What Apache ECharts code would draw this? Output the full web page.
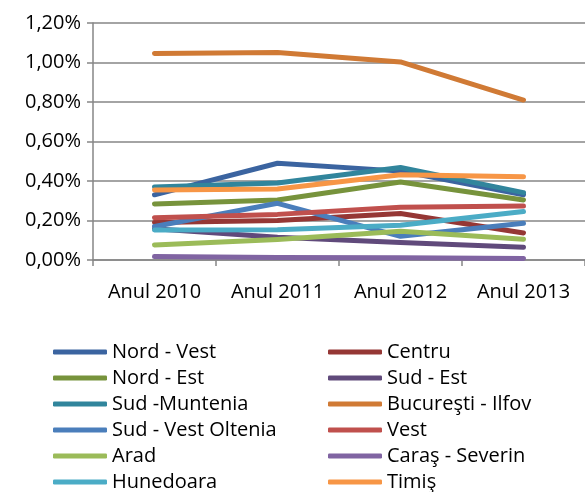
<!DOCTYPE html>
<html>
<head>
<meta charset="utf-8">
<script src="https://cdn.jsdelivr.net/npm/echarts@6/dist/echarts.min.js"></script>
<style>
  html, body { margin: 0; padding: 0; background: #fff; }
  #chart { width: 585px; height: 492px; }
</style>
</head>
<body>
<div id="chart"></div>
<script>
// Categories (years) on the horizontal axis
const years = ['Anul 2010', 'Anul 2011', 'Anul 2012', 'Anul 2013'];

// Shares per region / county, in percent
const nordVest        = [0.33, 0.49, 0.45, 0.33];
const centru          = [0.19, 0.20, 0.235, 0.137];
const nordEst         = [0.284, 0.304, 0.395, 0.304];
const sudEst          = [0.158, 0.115, 0.088, 0.064];
const sudMuntenia     = [0.37, 0.39, 0.468, 0.341];
const bucurestiIlfov  = [1.046, 1.051, 1.003, 0.81];
const sudVestOltenia  = [0.17, 0.287, 0.12, 0.186];
const vest            = [0.214, 0.231, 0.267, 0.273];
const arad            = [0.076, 0.104, 0.145, 0.105];
const carasSeverin    = [0.018, 0.013, 0.012, 0.008];
const hunedoara       = [0.152, 0.153, 0.176, 0.246];
const timis           = [0.354, 0.36, 0.432, 0.421];

// Y-axis tick labels
const yTicks = ['0,00%', '0,20%', '0,40%', '0,60%', '0,80%', '1,00%', '1,20%'];

const seriesDefs = [
  ['Nord - Vest', nordVest, '#3B64A0'],
  ['Centru', centru, '#953735'],
  ['Nord - Est', nordEst, '#77933C'],
  ['Sud - Est', sudEst, '#604A7B'],
  ['Sud -Muntenia', sudMuntenia, '#31859C'],
  ['Bucureşti - Ilfov', bucurestiIlfov, '#D07A35'],
  ['Sud - Vest Oltenia', sudVestOltenia, '#4A7EBB'],
  ['Vest', vest, '#C0504D'],
  ['Arad', arad, '#9BBB59'],
  ['Caraş - Severin', carasSeverin, '#8064A2'],
  ['Hunedoara', hunedoara, '#4BACC6'],
  ['Timiş', timis, '#F79646']
];

const FONT = 'Open Sans';
const chart = echarts.init(document.getElementById('chart'));

const names = seriesDefs.map(d => d[0]);
const legendBase = {
  orient: 'vertical',
  top: 339,
  height: 160,
  padding: 0,
  itemWidth: 54,
  itemHeight: 5,
  itemGap: 0,
  icon: 'roundRect',
  textStyle: { fontFamily: FONT, fontSize: 20, color: '#000', lineHeight: 26 },
  selectedMode: false
};

chart.setOption({
  animation: false,
  backgroundColor: '#fff',
  grid: { left: 93, top: 23, right: -1, bottom: 232, containLabel: false },
  legend: [
    Object.assign({}, legendBase, { left: 53, data: names.filter((_, i) => i % 2 === 0) }),
    Object.assign({}, legendBase, { left: 328, data: names.filter((_, i) => i % 2 === 1) })
  ],
  xAxis: {
    type: 'category',
    data: years,
    boundaryGap: true,
    axisLine: { lineStyle: { color: '#868686', width: 1.5 } },
    axisTick: { show: true, length: 6, alignWithLabel: false, lineStyle: { color: '#868686', width: 1.5 } },
    axisLabel: { fontFamily: FONT, fontSize: 20, color: '#000', margin: 22 },
    splitLine: { show: false }
  },
  yAxis: {
    type: 'value',
    min: 0,
    max: 1.2,
    interval: 0.2,
    axisLine: { show: true, lineStyle: { color: '#868686', width: 1.5 } },
    axisTick: { show: true, length: 6, lineStyle: { color: '#868686', width: 1.5 } },
    axisLabel: {
      fontFamily: FONT, fontSize: 20, color: '#000', margin: 12,
      formatter: v => yTicks[Math.round(v / 0.2)]
    },
    splitLine: { show: true, lineStyle: { color: '#868686', width: 1.5 } }
  },
  series: seriesDefs.map(([name, data, color]) => ({
    name,
    type: 'line',
    data,
    color,
    showSymbol: false,
    symbol: 'none',
    lineStyle: { width: 5, color, cap: 'round', join: 'round' },
    itemStyle: { color }
  }))
});
</script>
</body>
</html>
